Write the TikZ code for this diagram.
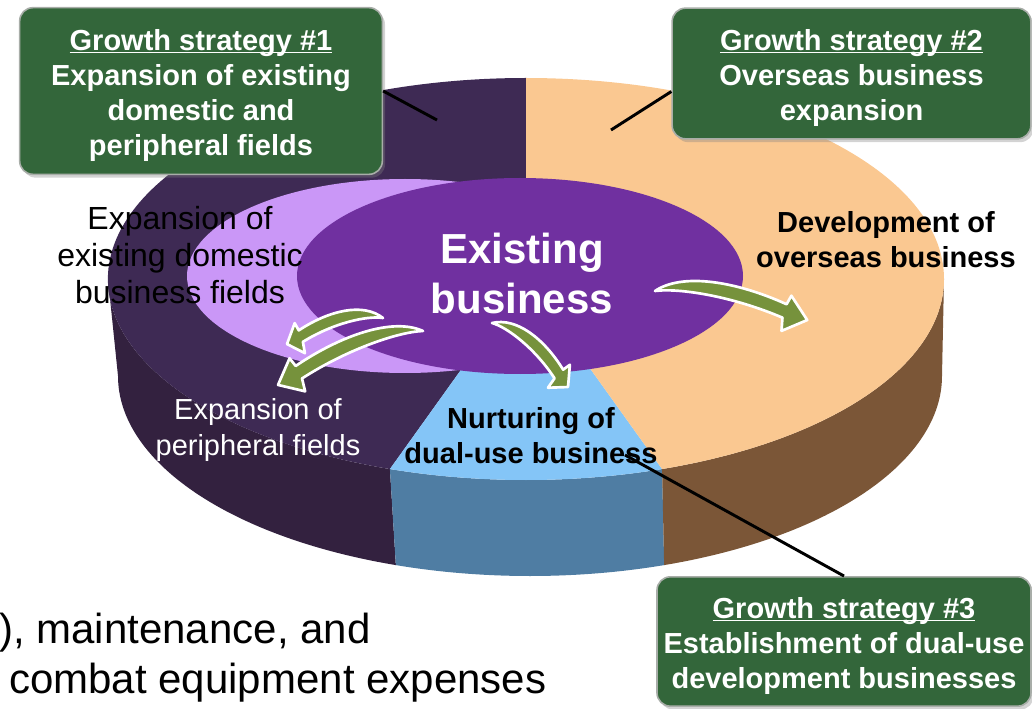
\documentclass[tikz,border=0pt]{standalone}
\usepackage{fontspec}
\setmainfont{Liberation Sans}
\usepackage{tikz}
\usetikzlibrary{calc}
\usetikzlibrary{shadows}

\definecolor{boxgreen}{HTML}{33663A}
\definecolor{boxedge}{HTML}{A8ADA8}
\definecolor{darktop}{HTML}{3E2A54}
\definecolor{darkside}{HTML}{33213F}
\definecolor{peachtop}{HTML}{FAC891}
\definecolor{peachside}{HTML}{7B5637}
\definecolor{bluetop}{HTML}{84C5F7}
\definecolor{blueside}{HTML}{4F7DA3}
\definecolor{lavender}{HTML}{CA97F7}
\definecolor{corepurple}{HTML}{7030A0}
\definecolor{arrowgreen}{HTML}{76923C}

\newcommand{\strathead}[1]{\underline{\smash{#1}}\rule{0pt}{22pt}}

\begin{document}
\begin{tikzpicture}[
x=0.75pt,y=-0.75pt,
stratbox/.style={
  draw=boxedge,
  line width=1.2pt,
  fill=boxgreen,
  rounded corners=10pt,
  drop shadow={shadow xshift=2pt,shadow yshift=-2.5pt,opacity=0.35},
  text=white,
  align=center,
  font=\fontsize{21.75}{26.25}\selectfont\bfseries
  },
core/.style={text=white,align=center,font=\fontsize{31.5}{37.5}\selectfont\bfseries},
slicelabel/.style={align=center,font=\fontsize{21.75}{26.25}\selectfont\bfseries},
fieldlabel/.style={align=center,font=\fontsize{24}{27.75}\selectfont},
costtext/.style={anchor=base west,inner sep=0pt,font=\fontsize{31.5}{37.5}\selectfont},
callout/.style={line width=2.2pt},
growarrow/.pic={
  \filldraw[fill=arrowgreen,draw=white,line width=2pt,line join=round]
  (0,0) .. controls (15,-15) and (50,-16) .. (85,-7.5) -- (87,-13.5) -- (100,0)
  -- (85,10) -- (84,1.5) .. controls (50,-6) and (15,-5) .. (0,0) -- cycle;
  }
]
\useasboundingbox (0,0) rectangle (1032,709);

% pie: centres of top and bottom faces
\coordinate (pc) at (526,279);
\coordinate (bc) at (530,376);

% side wall
\foreach \a/\b/\col in {180/109/darkside,109/71/blueside,71/0/peachside}
  \fill[\col] ($(pc)+(\a:418 and 201)$) arc[start angle=\a,end angle=\b,x radius=418,y radius=201]
    -- ($(bc)+(\b:412 and 200)$) arc[start angle=\b,end angle=\a,x radius=412,y radius=200] -- cycle;

% top face
\foreach \a/\b/\col in {109/270/darktop,71/109/bluetop,-90/71/peachtop}
  \fill[\col] (pc) -- ($(pc)+(\a:418 and 201)$)
    arc[start angle=\a,end angle=\b,x radius=418,y radius=201] -- cycle;

% core business ellipses
\fill[lavender] (405,276) ellipse[x radius=218,y radius=97];
\fill[corepurple] (520,276) ellipse[x radius=223,y radius=98];

% labels on the pie
\node[core] (core) at (522,273) {Existing\\business};
\node[fieldlabel] (dom) at (180,255) {Expansion of\\existing domestic\\business fields};
\node[fieldlabel,text=white,font=\fontsize{21.75}{27}\selectfont] (peri) at (258,430) {Expansion of\\peripheral fields};
\node[slicelabel] (over) at (886,240) {Development of\\overseas business};
\node[slicelabel] (dual) at (531,436) {Nurturing of\\dual-use business};

% growth arrows
\coordinate (t1) at (383,318);
\coordinate (t2) at (423,331);
\coordinate (t3) at (492,323);
\coordinate (t4) at (655,291);
\pic[rotate=-164.8,xscale=0.995,yscale=-1.35] at (t1) {growarrow};
\pic[rotate=-159.6,xscale=1.547,yscale=-1.55] at (t2) {growarrow};
\pic[rotate=-40.1,xscale=0.994,yscale=1.35] at (t3) {growarrow};
\pic[rotate=-10.8,scale=1.55] at (t4) {growarrow};

% strategy boxes
\node[stratbox,minimum width=272pt,minimum height=125pt] (s1) at (201,91)
  {\strathead{Growth strategy \#1}\\Expansion of existing\\domestic and\\peripheral fields};
\node[stratbox,minimum width=269pt,minimum height=98pt] (s2) at (851.5,73.5)
  {\strathead{Growth strategy \#2}\\Overseas business\\expansion};
\node[stratbox,minimum width=280.5pt,minimum height=97pt] (s3) at (844,641.5)
  {\strathead{Growth strategy \#3}\\Establishment of dual-use\\development businesses};

% callout lines
\coordinate (e1) at (437,120);
\coordinate (e2) at (611,130);
\coordinate (e3) at (625,455);
\draw[callout] (s1.east) -- (e1);
\draw[callout] ([yshift=-13.5pt]s2.west) -- (e2);
\draw[callout] (s3.north) -- (e3);

% running text below
\node[costtext] (cost1) at (-1,643) {), maintenance, and};
\node[costtext] (cost2) at (9,693) {combat equipment expenses};
\end{tikzpicture}
\end{document}
